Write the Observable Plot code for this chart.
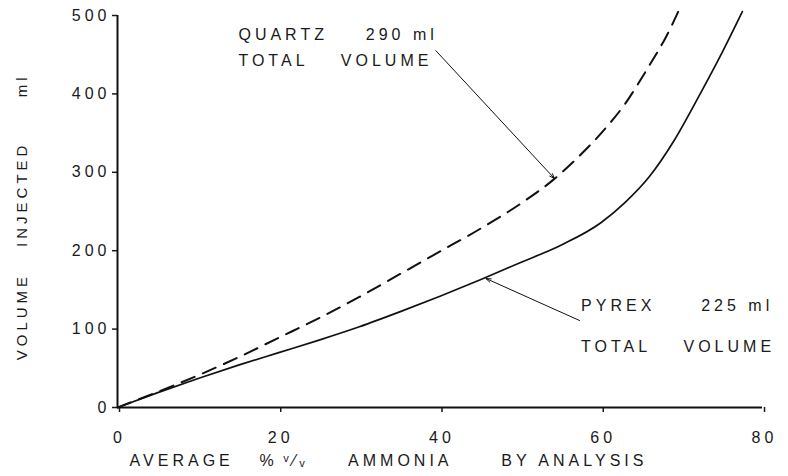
<!DOCTYPE html>
<html>
<head>
<meta charset="utf-8">
<script src="https://cdn.jsdelivr.net/npm/d3@7"></script>
<script src="https://cdn.jsdelivr.net/npm/@observablehq/plot@0.6"></script>
<style>
  html, body { margin: 0; padding: 0; background: #fff; }
  svg text { letter-spacing: 4px; fill: #1a1a1a; }
  g[aria-label="ytitle"] text { letter-spacing: 5.5px; }
  g[aria-label="xtitle"] text { letter-spacing: 5.5px; }
  g[aria-label="notes"] text { letter-spacing: 4.5px; }
</style>
</head>
<body>
<div id="chart"></div>
<script>
// Pyrex (solid) curve: average % v/v ammonia vs volume injected (ml)
const pyrexX = [0, 5, 10, 15, 20, 25, 30, 35, 40, 45, 50, 55, 60, 63, 66, 69, 72, 75, 77.5];
const pyrexY = [0, 19, 37, 54, 70, 86, 103, 122, 142, 163, 185, 207, 236, 262, 295, 340, 395, 453, 505];
// Quartz (dashed) curve
const quartzX = [0, 5, 10, 15, 20, 25, 30, 35, 40, 45, 50, 54, 57, 60, 63, 66, 68, 70];
const quartzY = [0, 20, 41, 64, 89, 114, 141, 170, 199, 228, 260, 290, 318, 350, 388, 437, 472, 515];

const xTicks = [0, 20, 40, 60, 80];
const yTicks = [0, 100, 200, 300, 400, 500];

// axis titles, split into words (anchored at data values)
const xTitleWords = ["AVERAGE", "%", "ᵛ⁄ᵥ", "AMMONIA", "BY", "ANALYSIS"];
const xTitleAt    = [1.5, 17.6, 20.6, 28.6, 47.6, 52.2];
const yTitleWords = ["VOLUME", "INJECTED", "ml"];
const yTitleAt    = [116, 272, 411];

// annotations
const noteText = ["QUARTZ", "290 ml", "TOTAL", "VOLUME", "PYREX", "225 ml", "TOTAL", "VOLUME"];
const noteX    = [15.0, 30.8, 15.0, 27.7, 57.5, 72.4, 57.5, 70.2];
const noteY    = [469, 469, 436, 436, 123.7, 123.7, 70.5, 70.5];

const arrowFromX = [39.5, 57.3];
const arrowFromY = [455, 111];
const arrowToX   = [54.2, 45.7];
const arrowToY   = [292, 164.5];

const pyrex = pyrexX.map((x, i) => ({x, y: pyrexY[i]}));
const quartz = quartzX.map((x, i) => ({x, y: quartzY[i]}));
const xTitle = xTitleWords.map((t, i) => ({t, x: xTitleAt[i]}));
const yTitle = yTitleWords.map((t, i) => ({t, y: yTitleAt[i]}));
const notes = noteText.map((t, i) => ({t, x: noteX[i], y: noteY[i]}));
const arrows = arrowFromX.map((x1, i) => ({x1, y1: arrowFromY[i], x2: arrowToX[i], y2: arrowToY[i]}));

const chart = Plot.plot({
  width: 788,
  height: 476,
  marginLeft: 117,
  marginRight: 26,
  marginTop: 15,
  marginBottom: 69,
  style: {fontFamily: "'Liberation Sans', 'DejaVu Sans', sans-serif", fontSize: "16px", background: "#fff", color: "#1a1a1a"},
  x: {domain: [0, 80]},
  y: {domain: [0, 500]},
  marks: [
    Plot.axisX({ticks: xTicks, tickSize: 5, tickPadding: 19, label: null, strokeWidth: 1.5, fontSize: 16, dx: 2}),
    Plot.axisY({ticks: yTicks, tickSize: 5, tickPadding: 2, label: null, strokeWidth: 1.5, fontSize: 16}),
    Plot.ruleY([0], {stroke: "#111", strokeWidth: 2}),
    Plot.ruleX([0], {stroke: "#111", strokeWidth: 2}),
    Plot.line(quartz, {x: "x", y: "y", curve: "monotone-x", stroke: "#111", strokeWidth: 2, strokeDasharray: "14,9"}),
    Plot.line(pyrex, {x: "x", y: "y", curve: "monotone-x", stroke: "#111", strokeWidth: 1.7}),
    Plot.arrow(arrows, {x1: "x1", y1: "y1", x2: "x2", y2: "y2", stroke: "#111", strokeWidth: 1, headLength: 8, headAngle: 40}),
    Plot.text(notes, {x: "x", y: "y", text: "t", textAnchor: "start", lineAnchor: "bottom", fontSize: 16, ariaLabel: "notes"}),
    Plot.text(xTitle, {x: "x", text: "t", frameAnchor: "bottom", dy: 58, textAnchor: "start", fontSize: 16, ariaLabel: "xtitle"}),
    Plot.text(yTitle, {y: "y", text: "t", frameAnchor: "left", dx: -95, rotate: -90, textAnchor: "middle", fontSize: 15, ariaLabel: "ytitle"})
  ]
});
document.getElementById("chart").appendChild(chart);
</script>
</body>
</html>
